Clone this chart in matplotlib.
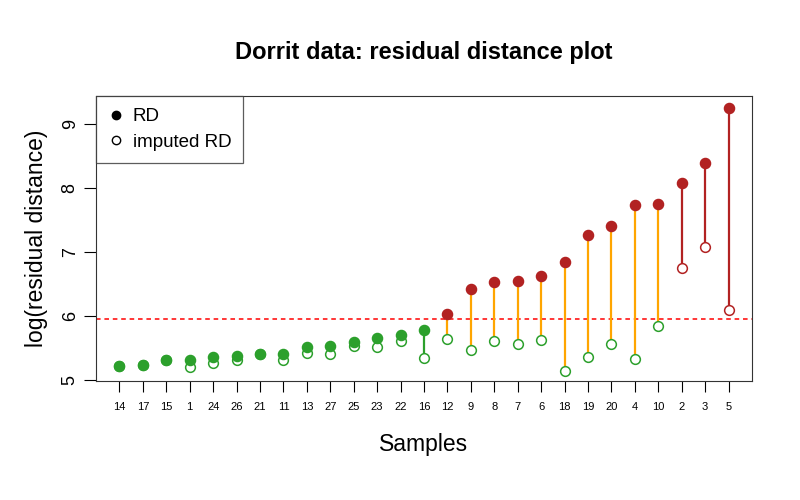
import matplotlib.pyplot as plt
from matplotlib.lines import Line2D

plt.rcParams['font.family'] = ['Liberation Sans', 'DejaVu Sans']

# Samples ordered by residual distance
samples = ['14', '17', '15', '1', '24', '26', '21', '11', '13', '27', '25', '23', '22', '16',
           '12', '9', '8', '7', '6', '18', '19', '20', '4', '10', '2', '3', '5']
rd = [5.22, 5.24, 5.31, 5.31, 5.36, 5.37, 5.41, 5.41, 5.52, 5.54, 5.60, 5.66, 5.71, 5.78,
      6.04, 6.43, 6.54, 6.55, 6.63, 6.85, 7.27, 7.41, 7.74, 7.75, 8.08, 8.40, 9.26]
imputed = [5.22, 5.24, 5.31, 5.21, 5.26, 5.31, 5.41, 5.32, 5.43, 5.41, 5.54, 5.51, 5.61, 5.35,
           5.64, 5.47, 5.61, 5.56, 5.62, 5.14, 5.36, 5.56, 5.33, 5.84, 6.76, 7.08, 6.10]
cutoff = 5.95

green = '#2ca02c'
red = '#b22222'
orange = '#ffa500'

fig = plt.figure(figsize=(8, 5), dpi=100)
ax = fig.add_axes([0.12, 0.238, 0.82, 0.57])

x = list(range(1, len(samples) + 1))
for xi, a, b in zip(x, rd, imputed):
    if a <= cutoff:
        seg = green
    elif b <= cutoff:
        seg = orange
    else:
        seg = red
    ax.plot([xi, xi], [b, a], color=seg, lw=1.6, zorder=1)
    ax.plot(xi, b, 'o', ms=7, mfc='white', mec=green if b <= cutoff else red,
            mew=1.1, zorder=2)
    ax.plot(xi, a, 'o', ms=7.3, color=green if a <= cutoff else red, zorder=3)

ax.axhline(cutoff, color='red', ls=(0, (3, 2.5)), lw=1.1, zorder=0)

ax.set_xlim(0, 28)
ax.set_ylim(4.985, 9.445)
ax.set_xticks(x)
ax.set_xticklabels(samples, fontsize=8)
ax.set_yticks([5, 6, 7, 8, 9])
ax.tick_params(axis='y', labelsize=13, rotation=90, length=8.5, pad=4)
ax.tick_params(axis='x', length=8, pad=7)
for lab in ax.get_yticklabels():
    lab.set_va('center')
for s in ax.spines.values():
    s.set_color('#333333')

ax.set_xlabel('Samples', fontsize=16.5, labelpad=15)
ax.set_ylabel('log(residual distance)', fontsize=16.5, labelpad=10)
ax.set_title('Dorrit data: residual distance plot', fontsize=17, fontweight='bold', pad=27)

handles = [Line2D([], [], ls='', marker='o', ms=6, color='black'),
           Line2D([], [], ls='', marker='o', ms=6, mfc='white', mec='black', mew=1)]
leg = ax.legend(handles, ['RD', 'imputed RD'], loc='upper left', fontsize=13.5,
                frameon=True, fancybox=False, borderaxespad=0, handlelength=0.8,
                handletextpad=0.5, borderpad=0.65, labelspacing=0.45)
leg.get_frame().set_edgecolor('#333333')
leg.get_frame().set_linewidth(0.9)

fig.savefig('out.png', dpi=100)
